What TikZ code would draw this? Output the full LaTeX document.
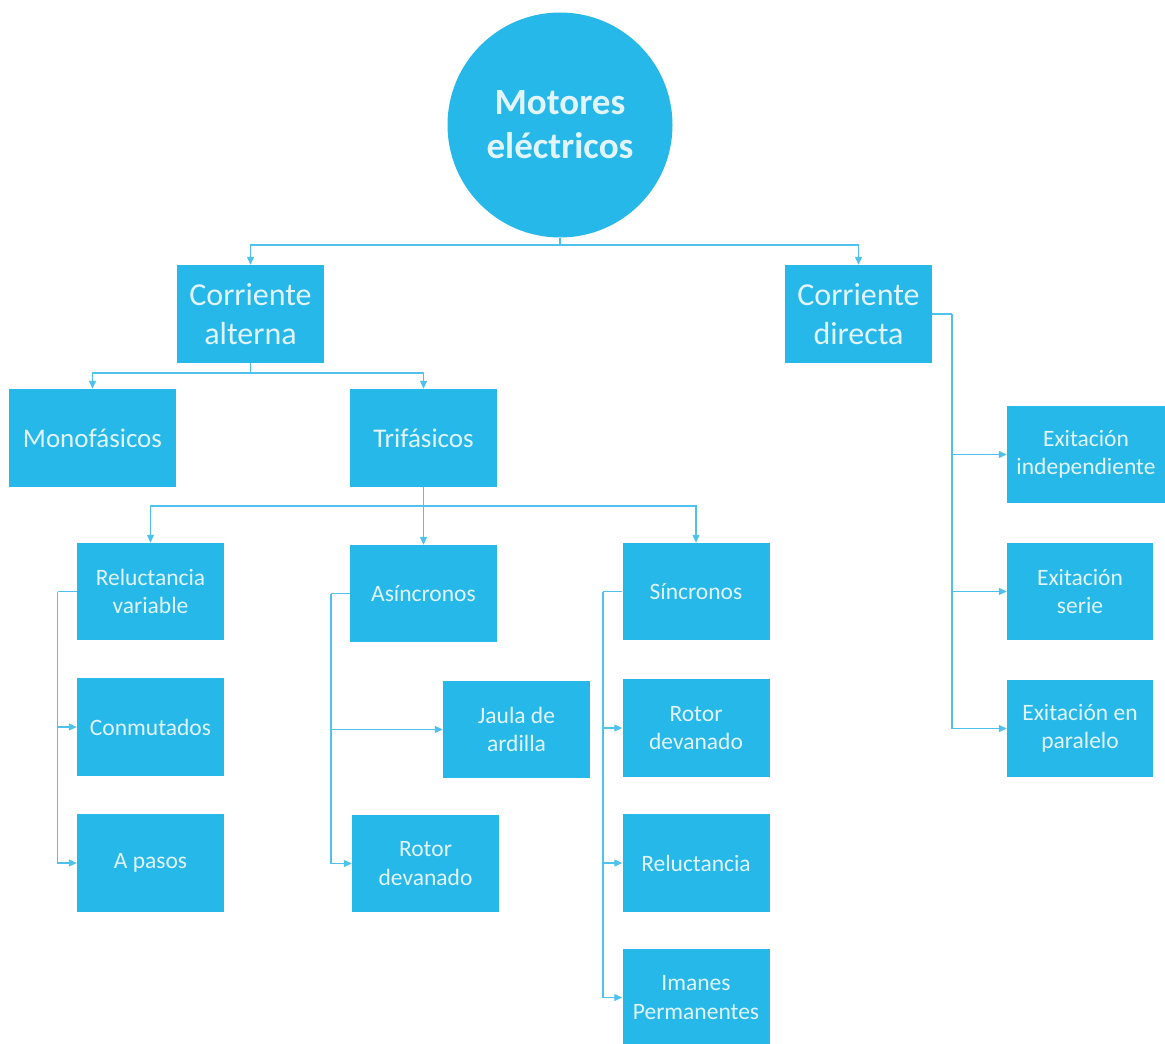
\documentclass[tikz,border=0pt]{standalone}
\usepackage{fontspec}
\setmainfont{Carlito}
\usetikzlibrary{arrows.meta}
\definecolor{boxfill}{RGB}{37,184,233}
\definecolor{boxtxt}{RGB}{226,245,252}
\definecolor{linec}{RGB}{78,194,236}
\tikzset{
  box/.style={fill=boxfill, draw=none, inner sep=0pt, text=boxtxt, align=center,
    minimum width=147, minimum height=98},
  small/.style={font=\fontsize{23.5}{28.5}\selectfont},
  medium/.style={font=\fontsize{27}{32}\selectfont},
  large/.style={font=\fontsize{32}{39}\selectfont},
  conn/.style={draw=linec, line width=1.2pt, -{Triangle[length=8pt,width=7pt]}},
  plain/.style={draw=linec, line width=1.2pt},
}
\begin{document}
\begin{tikzpicture}[x=1pt,y=-1pt]
\useasboundingbox (0,0) rectangle (1165,1044);
% root
\node[circle, fill=boxfill, minimum size=225, inner sep=0pt, text=boxtxt, align=center,
  font=\fontsize{37}{44}\selectfont\bfseries] (motor) at (560,125) {Motores\\eléctricos};
% level 1
\node[box, large] (ca) at (250.5,314) {Corriente\\alterna};
\node[box, large] (cd) at (858.5,314) {Corriente\\directa};
% level 2
\node[box, medium, minimum width=167] (mono) at (92.5,438) {Monofásicos};
\node[box, medium] (tri) at (423.5,438) {Trifásicos};
% level 3
\node[box, small, minimum height=97] (rv) at (150.5,591.5) {Reluctancia\\variable};
\node[box, small] (conm) at (150.5,727) {Conmutados};
\node[box, small] (apasos) at (150.5,863) {A pasos};
\node[box, small, minimum height=97] (asin) at (423.5,593.5) {Asíncronos};
\node[box, small, minimum height=97] (jaula) at (516.5,729.5) {Jaula de\\ardilla};
\node[box, small, minimum height=97] (rdA) at (425.5,863.5) {Rotor\\devanado};
\node[box, small, minimum height=97] (sinc) at (696,591.5) {Síncronos};
\node[box, small] (rdS) at (696,728) {Rotor\\devanado};
\node[box, small] (rel) at (696,863) {Reluctancia};
\node[box, small, minimum height=97] (iman) at (696,997.5) {Imanes\\Permanentes};
% directa children
\node[box, small, minimum width=158, minimum height=97] (ei) at (1086,454.5) {Exitación\\independiente};
\node[box, small, minimum width=146, minimum height=97] (es) at (1080,591.5) {Exitación\\serie};
\node[box, small, minimum width=146, minimum height=97] (ep) at (1080,728.5) {Exitación en\\paralelo};
% connectors
\coordinate (j1) at (560,245);
\draw[plain] (motor.south) -- (j1);
\draw[conn] (j1) -| (ca.north);
\draw[conn] (j1) -| (cd.north);
\coordinate (j2) at (250.5,373);
\draw[plain] (ca.south) -- (j2);
\draw[conn] (j2) -| (mono.north);
\draw[conn] (j2) -| (tri.north);
\coordinate (j3) at (423.5,506);
\draw[plain] (tri.south) -- (j3);
\draw[conn] (j3) -| (rv.north);
\draw[conn] (j3) -- (asin.north);
\draw[conn] (j3) -| (sinc.north);
% reluctancia variable
\coordinate (k1) at (57.5,591.5);
\draw[plain] (rv.west) -- (k1);
\draw[conn] (k1) |- (conm.west);
\draw[conn] (k1) |- (apasos.west);
% asincronos
\coordinate (k2) at (331,593.5);
\draw[plain] (asin.west) -- (k2);
\draw[conn] (k2) |- (jaula.west);
\draw[conn] (k2) |- (rdA.west);
% sincronos
\coordinate (k3) at (603,591.5);
\draw[plain] (sinc.west) -- (k3);
\draw[conn] (k3) |- (rdS.west);
\draw[conn] (k3) |- (rel.west);
\draw[conn] (k3) |- (iman.west);
% directa
\coordinate (k4) at (952,314);
\draw[plain] (cd.east) -- (k4);
\draw[conn] (k4) |- (ei.west);
\draw[conn] (k4) |- (es.west);
\draw[conn] (k4) |- (ep.west);
\end{tikzpicture}
\end{document}
